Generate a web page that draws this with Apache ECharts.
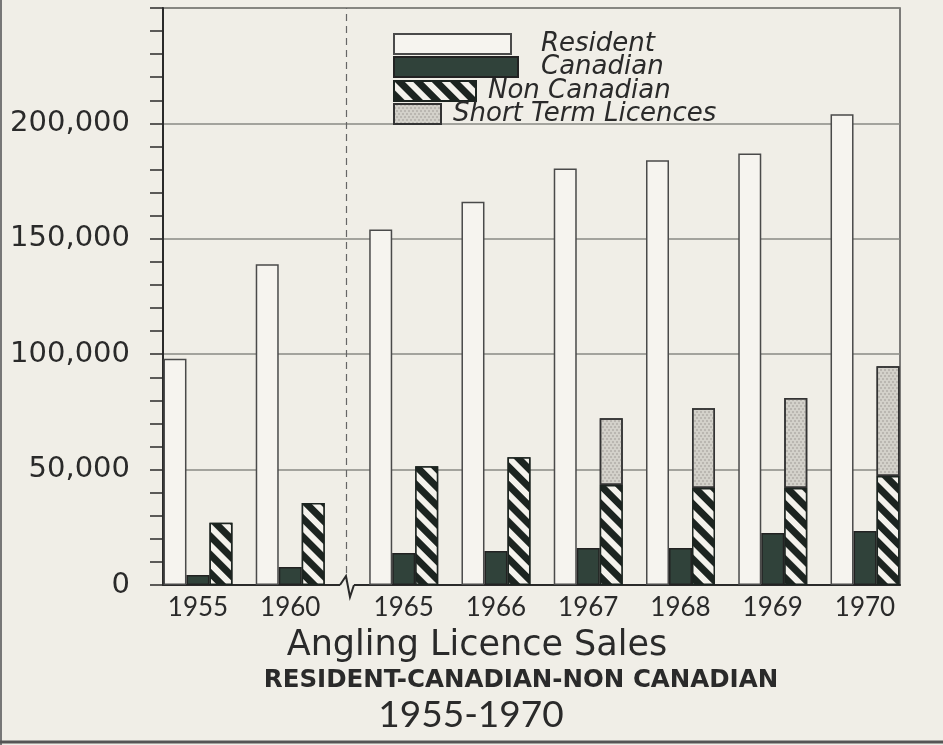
<!DOCTYPE html>
<html><head><meta charset="utf-8">
<script src="https://cdn.jsdelivr.net/npm/echarts@6/dist/echarts.min.js"></script>
<style>html,body{margin:0;padding:0;background:#f0eee7;}#c{width:943px;height:745px;}</style>
</head><body><div id="c"></div>
<script>
// ---- data ----
const years = ['1955','1960','1965','1966','1967','1968','1969','1970'];
const resident    = [98000, 139000, 154000, 166000, 180500, 184000, 187000, 204000];
const canadian    = [4300, 7800, 13900, 14700, 16000, 16000, 22500, 23400];
const nonCanadian = [27000, 35500, 51500, 55400, 43300, 42000, 42000, 47200];
const shortTerm   = [null, null, null, null, 29000, 34600, 39000, 47600];
const yTickLabels = [0, 50000, 100000, 150000, 200000];
const seriesNames = ['Resident', 'Canadian', 'Non Canadian', 'Short Term Licences'];

// ---- layout: category slots, with an axis break between 1960 and 1965 ----
const BREAK_GAP = 0.23;
const slot = years.map((y, i) => i + (i >= 2 ? BREAK_GAP : 0));
const HALF = 0.379;
const breakPos = (slot[1] + slot[2]) / 2;
// value first, slot second (encode swaps them) so that stacking works on the y value
const pair = arr => arr.map((v, i) => [v, slot[i]]);

const INK = '#2a2a2a';
const BG = '#f0eee7';
const FONT = 'Lato, "DejaVu Sans", sans-serif';
const WIDE = '"DejaVu Sans", sans-serif';

const chart = echarts.init(document.getElementById('c'), null, {renderer: 'canvas'});
const barBase = {type: 'bar', barWidth: 23, barGap: '0%', animation: false, encode: {x: 1, y: 0}};

const legendTops = [31, 54, 78, 101];
const legendWidths = [117, 124, 82, 47];
const legendGaps = [30, 23, 12, 12];
const legends = seriesNames.map((n, i) => ({
  data: [n], left: 393, top: legendTops[i], orient: 'vertical',
  itemWidth: legendWidths[i], itemHeight: 20, padding: 0,
  itemGap: 0, selectedMode: false, icon: 'rect',
  textStyle: {fontFamily: WIDE, fontStyle: 'italic', fontSize: 26, color: INK, padding: [0, 0, 0, legendGaps[i] - 5]}
}));

chart.setOption({
  backgroundColor: BG,
  animation: false,
  grid: {left: 163, right: 43, top: 8, bottom: 160, show: true, borderColor: '#555', borderWidth: 1.5, backgroundColor: 'transparent'},
  legend: legends,
  xAxis: {
    type: 'value', min: -HALF, max: slot[slot.length - 1] + HALF,
    axisLine: {show: true, onZero: false, lineStyle: {color: INK, width: 2}},
    axisTick: {show: false}, splitLine: {show: false},
    axisLabel: {
      customValues: slot, margin: 10,
      formatter: v => { const i = slot.findIndex(s => Math.abs(s - v) < 1e-6); return i >= 0 ? years[i] : ''; },
      fontFamily: FONT, fontSize: 26, color: INK
    }
  },
  yAxis: {
    type: 'value', min: 0, max: 250000, interval: 50000,
    axisLine: {show: true, onZero: false, lineStyle: {color: INK, width: 2}},
    axisTick: {show: true, length: 13, lineStyle: {color: INK, width: 1.5}},
    minorTick: {show: true, splitNumber: 5, length: 13, lineStyle: {color: INK, width: 1.5}},
    splitLine: {show: true, lineStyle: {color: '#8a8a85', width: 1.5}},
    axisLabel: {
      margin: 33, fontFamily: WIDE, fontSize: 29, color: INK,
      formatter: v => yTickLabels.includes(v) ? v.toLocaleString('en-US') : ''
    }
  },
  series: [
    Object.assign({}, barBase, {
      name: seriesNames[0], data: pair(resident),
      itemStyle: {color: '#f6f4ef', borderColor: '#4a4a4a', borderWidth: 1.5}
    }),
    Object.assign({}, barBase, {
      name: seriesNames[1], data: pair(canadian),
      itemStyle: {color: '#30423a', borderColor: '#222', borderWidth: 1.5},
      markLine: {silent: true, symbol: 'none', label: {show: false},
        lineStyle: {type: [7, 5], color: '#666', width: 1.2},
        data: [{xAxis: breakPos}]}
    }),
    Object.assign({}, barBase, {
      name: seriesNames[2], data: pair(nonCanadian), stack: 'nc',
      itemStyle: {color: '#1c2420', borderColor: '#1c2420', borderWidth: 1.5,
        decal: {symbol: 'rect', symbolSize: 1, color: '#f4f2ec', dashArrayX: [1, 0], dashArrayY: [6, 7], rotation: Math.PI / 4}}
    }),
    Object.assign({}, barBase, {
      name: seriesNames[3], data: pair(shortTerm), stack: 'nc',
      itemStyle: {color: '#d3d1ca', borderColor: '#333', borderWidth: 1.5,
        decal: {symbol: 'circle', symbolSize: 0.7, color: '#8d8c86', dashArrayX: [[2, 2], [0, 2, 2, 0]], dashArrayY: [2, 1]}}
    })
  ]
});

// decorations positioned through the axes' own scales
const p0 = chart.convertToPixel({xAxisIndex: 0, yAxisIndex: 0}, [breakPos, 0]);
const bx = p0[0], by = p0[1];
chart.setOption({
  graphic: [
    {type: 'rect', shape: {x: bx - 7, y: by - 3, width: 14, height: 6}, style: {fill: BG}, z: 100},
    {type: 'polyline', shape: {points: [[bx - 7, by], [bx - 1, by - 9], [bx + 3, by + 12], [bx + 7, by]]},
      style: {stroke: INK, lineWidth: 2, fill: null}, z: 101},
    {type: 'text', x: 477, y: 646, style: {text: 'Angling Licence Sales', font: '35px ' + WIDE, fill: INK, textAlign: 'center', textVerticalAlign: 'middle'}, z: 100},
    {type: 'text', x: 521, y: 681, style: {text: 'RESIDENT-CANADIAN-NON CANADIAN', font: 'bold 24.5px ' + WIDE, fill: INK, textAlign: 'center', textVerticalAlign: 'middle'}, z: 100},
    {type: 'text', x: 471, y: 715, style: {text: '1955-1970', font: '37px ' + FONT, fill: INK, textAlign: 'center', textVerticalAlign: 'middle'}, z: 100},
    {type: 'line', shape: {x1: 1, y1: 0, x2: 1, y2: 745}, style: {stroke: '#777', lineWidth: 2}, z: 100},
    {type: 'line', shape: {x1: 0, y1: 742, x2: 943, y2: 742}, style: {stroke: '#555', lineWidth: 3}, z: 100}
  ]
});
</script></body></html>
